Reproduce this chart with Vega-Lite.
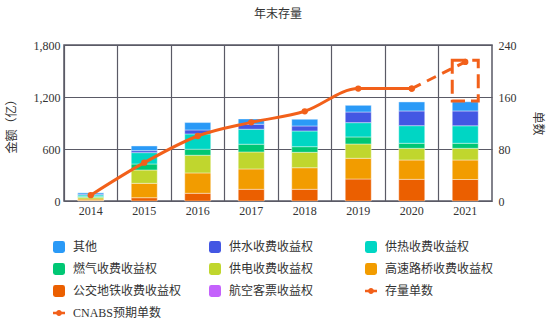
{
  "$schema": "https://vega.github.io/schema/vega-lite/v6.json",
  "width": 428,
  "height": 156,
  "autosize": {"type": "none"},
  "padding": {"left": 64, "top": 45, "right": 62, "bottom": 120},
  "background": "#ffffff",
  "config": {
    "font": "Liberation Serif, Noto Sans CJK SC",
    "view": {"stroke": "#5a5a66", "strokeWidth": 1.5},
    "axis": {"labelFont": "Liberation Serif, Noto Sans CJK SC", "titleFont": "Liberation Serif, Noto Sans CJK SC", "labelFontSize": 12, "titleFontSize": 12, "labelColor": "#333333", "titleColor": "#333333", "titleFontWeight": "normal"},
    "legend": {"labelFont": "Liberation Serif, Noto Sans CJK SC", "labelFontSize": 12, "labelColor": "#333333"}
  },
  "title": {"text": "年末存量", "fontSize": 12, "fontWeight": "normal", "color": "#333333", "font": "Noto Sans CJK SC", "offset": 18, "anchor": "middle"},
  "datasets": {
    "bars": [
      {"year": "2014", "name": "公交地铁收费收益权", "value": 5},
      {"year": "2014", "name": "高速路桥收费收益权", "value": 18},
      {"year": "2014", "name": "供电收费收益权", "value": 20},
      {"year": "2014", "name": "燃气收费收益权", "value": 8},
      {"year": "2014", "name": "供热收费收益权", "value": 18},
      {"year": "2014", "name": "供水收费收益权", "value": 10},
      {"year": "2014", "name": "其他", "value": 15},
      {"year": "2015", "name": "公交地铁收费收益权", "value": 38},
      {"year": "2015", "name": "高速路桥收费收益权", "value": 166},
      {"year": "2015", "name": "供电收费收益权", "value": 154},
      {"year": "2015", "name": "燃气收费收益权", "value": 69},
      {"year": "2015", "name": "供热收费收益权", "value": 131},
      {"year": "2015", "name": "供水收费收益权", "value": 23},
      {"year": "2015", "name": "其他", "value": 54},
      {"year": "2016", "name": "公交地铁收费收益权", "value": 89},
      {"year": "2016", "name": "高速路桥收费收益权", "value": 235},
      {"year": "2016", "name": "供电收费收益权", "value": 204},
      {"year": "2016", "name": "燃气收费收益权", "value": 69},
      {"year": "2016", "name": "供热收费收益权", "value": 177},
      {"year": "2016", "name": "供水收费收益权", "value": 46},
      {"year": "2016", "name": "其他", "value": 85},
      {"year": "2017", "name": "公交地铁收费收益权", "value": 135},
      {"year": "2017", "name": "高速路桥收费收益权", "value": 235},
      {"year": "2017", "name": "供电收费收益权", "value": 196},
      {"year": "2017", "name": "燃气收费收益权", "value": 89},
      {"year": "2017", "name": "供热收费收益权", "value": 173},
      {"year": "2017", "name": "供水收费收益权", "value": 58},
      {"year": "2017", "name": "其他", "value": 61},
      {"year": "2018", "name": "公交地铁收费收益权", "value": 135},
      {"year": "2018", "name": "高速路桥收费收益权", "value": 249},
      {"year": "2018", "name": "供电收费收益权", "value": 178},
      {"year": "2018", "name": "燃气收费收益权", "value": 65},
      {"year": "2018", "name": "供热收费收益权", "value": 181},
      {"year": "2018", "name": "供水收费收益权", "value": 58},
      {"year": "2018", "name": "其他", "value": 77},
      {"year": "2019", "name": "公交地铁收费收益权", "value": 254},
      {"year": "2019", "name": "高速路桥收费收益权", "value": 239},
      {"year": "2019", "name": "供电收费收益权", "value": 165},
      {"year": "2019", "name": "燃气收费收益权", "value": 81},
      {"year": "2019", "name": "供热收费收益权", "value": 165},
      {"year": "2019", "name": "供水收费收益权", "value": 123},
      {"year": "2019", "name": "其他", "value": 77},
      {"year": "2020", "name": "公交地铁收费收益权", "value": 250},
      {"year": "2020", "name": "高速路桥收费收益权", "value": 223},
      {"year": "2020", "name": "供电收费收益权", "value": 135},
      {"year": "2020", "name": "燃气收费收益权", "value": 58},
      {"year": "2020", "name": "供热收费收益权", "value": 203},
      {"year": "2020", "name": "供水收费收益权", "value": 170},
      {"year": "2020", "name": "其他", "value": 104},
      {"year": "2021", "name": "公交地铁收费收益权", "value": 248},
      {"year": "2021", "name": "高速路桥收费收益权", "value": 225},
      {"year": "2021", "name": "供电收费收益权", "value": 135},
      {"year": "2021", "name": "燃气收费收益权", "value": 58},
      {"year": "2021", "name": "供热收费收益权", "value": 202},
      {"year": "2021", "name": "供水收费收益权", "value": 171},
      {"year": "2021", "name": "其他", "value": 106}
    ],
    "box": [
      {"year": "2021", "low": 1155, "high": 1625}
    ],
    "lines": [
      {"year": "2014", "name": "存量单数", "count": 9},
      {"year": "2015", "name": "存量单数", "count": 59},
      {"year": "2016", "name": "存量单数", "count": 100},
      {"year": "2017", "name": "存量单数", "count": 121},
      {"year": "2018", "name": "存量单数", "count": 138},
      {"year": "2019", "name": "存量单数", "count": 173},
      {"year": "2020", "name": "存量单数", "count": 173},
      {"year": "2020", "name": "CNABS预期单数", "count": 173},
      {"year": "2021", "name": "CNABS预期单数", "count": 214}
    ]
  },
  "encoding": {
    "x": {
      "field": "year", "type": "nominal", "title": null,
      "scale": {"domain": ["2014", "2015", "2016", "2017", "2018", "2019", "2020", "2021"], "paddingInner": 0, "paddingOuter": 0},
      "axis": {"labelAngle": 0, "ticks": false, "domain": false, "labelPadding": 4, "grid": true, "bandPosition": 0, "gridColor": "#5a5a66", "gridWidth": 1.2, "gridOpacity": 1}
    },
    "color": {
      "field": "name", "type": "nominal",
      "scale": {
        "domain": ["其他", "供水收费收益权", "供热收费收益权", "燃气收费收益权", "供电收费收益权", "高速路桥收费收益权", "公交地铁收费收益权", "航空客票收益权", "存量单数", "CNABS预期单数"],
        "range": ["#2a9af7", "#4357e3", "#00d6c4", "#00c774", "#c0d62e", "#f29c00", "#eb5f00", "#c462fc", "#f2601a", "#f2601a"]
      },
      "legend": {
        "title": null, "orient": "none", "legendX": -11, "legendY": 196,
        "direction": "horizontal",
        "columns": 3, "gridAlign": "all", "columnPadding": 27, "rowPadding": 10,
        "symbolSize": 144, "labelOffset": 8, "padding": 0, "labelLimit": 200,
        "encode": {
          "symbols": {
            "update": {
              "shape": {"signal": "datum.value === '存量单数' || datum.value === 'CNABS预期单数' ? 'M-1,-0.22H1V0.22H-1Z M0.5,0A0.5,0.5 0 1,1 -0.5,0A0.5,0.5 0 1,1 0.5,0Z' : 'M-1,-0.6Q-1,-1 -0.6,-1H0.6Q1,-1 1,-0.6V0.6Q1,1 0.6,1H-0.6Q-1,1 -1,0.6Z'"},
              "fill": {"scale": "color", "field": "value"},
              "fillOpacity": {"value": 1},
              "strokeWidth": {"value": 0},
              "opacity": {"value": 1}
            }
          }
        }
      }
    }
  },
  "layer": [
    {
      "encoding": {
        "y": {
          "field": "value", "type": "quantitative", "title": "金额（亿）",
          "scale": {"domain": [0, 1800], "nice": false},
          "axis": {"values": [0, 600, 1200, 1800], "format": ",.0f", "ticks": false, "domain": false, "labelPadding": 4, "titleX": -53, "titleBaseline": "middle", "grid": true, "gridColor": "#5a5a66", "gridWidth": 1.2, "gridOpacity": 1, "titleFont": "Noto Sans CJK SC"}
        }
      },
      "layer": [
        {
          "data": {"name": "bars"},
          "transform": [{"calculate": "indexof(['公交地铁收费收益权','高速路桥收费收益权','供电收费收益权','燃气收费收益权','供热收费收益权','航空客票收益权','供水收费收益权','其他'], datum.name)", "as": "stackRank"}],
          "mark": {"type": "bar", "width": {"band": 0.486}, "stroke": "#ffffff", "strokeWidth": 0.8, "strokeOpacity": 0.5},
          "encoding": {
            "y": {"field": "value", "type": "quantitative", "stack": "zero"},
            "order": {"field": "stackRank", "type": "quantitative", "sort": "ascending"}
          }
        },
        {
          "data": {"name": "box"},
          "mark": {"type": "bar", "width": {"band": 0.486}, "fill": "transparent", "stroke": "#f2601a", "strokeWidth": 3, "strokeDash": [14, 6], "strokeDashOffset": 20},
          "encoding": {
            "y": {"field": "low", "type": "quantitative"},
            "y2": {"field": "high"},
            "color": {"value": "transparent"}
          }
        }
      ]
    },
    {
      "data": {"name": "lines"},
      "encoding": {
        "y": {
          "field": "count", "type": "quantitative", "title": "单数",
          "scale": {"domain": [0, 240], "nice": false},
          "axis": {"orient": "right", "values": [0, 80, 160, 240], "ticks": false, "domain": false, "labelPadding": 6, "titleX": 45, "titleBaseline": "middle", "grid": false, "titleFont": "Noto Sans CJK SC"}
        }
      },
      "layer": [
        {
          "transform": [{"filter": "datum.name === '存量单数'"}],
          "mark": {"type": "line", "strokeWidth": 3, "interpolate": "monotone", "point": {"filled": true, "size": 40}}
        },
        {
          "transform": [{"filter": "datum.name === 'CNABS预期单数'"}],
          "mark": {"type": "line", "strokeWidth": 3, "strokeDash": [10, 7], "point": {"filled": true, "size": 40}}
        }
      ]
    }
  ],
  "resolve": {"scale": {"y": "independent"}}
}
